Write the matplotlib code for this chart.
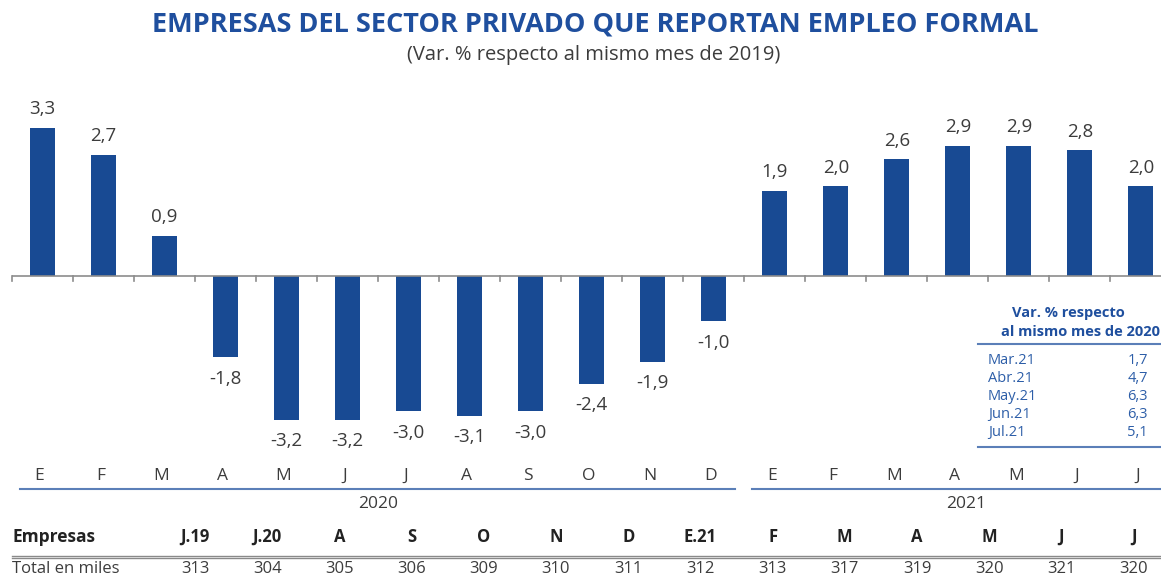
import matplotlib.pyplot as plt
import numpy as np
from matplotlib.transforms import blended_transform_factory
from matplotlib.lines import Line2D

# data
meses = ["E", "F", "M", "A", "M", "J", "J", "A", "S", "O", "N", "D",
         "E", "F", "M", "A", "M", "J", "J"]
valores = [3.3, 2.7, 0.9, -1.8, -3.2, -3.2, -3.0, -3.1, -3.0, -2.4, -1.9, -1.0,
           1.9, 2.0, 2.6, 2.9, 2.9, 2.8, 2.0]

tabla_cols = ["J.19", "J.20", "A", "S", "O", "N", "D", "E.21", "F", "M", "A", "M", "J", "J"]
tabla_vals = [313, 304, 305, 306, 309, 310, 311, 312, 313, 317, 319, 320, 321, 320]

inset_meses = ["Mar.21", "Abr.21", "May.21", "Jun.21", "Jul.21"]
inset_vals = [1.7, 4.7, 6.3, 6.3, 5.1]

azul = "#184a93"
gris = "#3c3c3c"
azul_linea = "#5b7fb8"

W, H = 1161, 579
fig = plt.figure(figsize=(W / 100, H / 100), dpi=100)

def fx(px):
    return px / W

def fy(py):
    return 1 - py / H

plt.rcParams['font.family'] = ['Open Sans', 'DejaVu Sans']

# main axes: left 12px, right 1161px, top 90px, bottom 460px
ax = fig.add_axes([fx(12), fy(460), fx(1161) - fx(12), fy(90) - fy(460)])
x = np.arange(len(valores))
ax.bar(x, valores, width=0.41, color=azul)
ax.set_xlim(-0.5, 18.33)
ax.set_ylim(-(460 - 276) / 45, (276 - 90) / 45)
ax.axhline(0, color="#8c8c8c", lw=1.2)
for s in ax.spines.values():
    s.set_visible(False)
ax.set_xticks([])
ax.set_yticks([])

# small ticks between bars
for b in np.arange(-0.5, 18, 1.0):
    ax.plot([b, b], [0, -0.1], color="#8c8c8c", lw=1.2, clip_on=False)

for xi, v in zip(x, valores):
    txt = f"{v:.1f}".replace(".", ",")
    if v >= 0:
        ax.annotate(txt, (xi, v), xytext=(0, 6.5), textcoords="offset points",
                    ha="center", va="bottom", fontsize=13.5, color=gris)
    else:
        ax.annotate(txt, (xi, v), xytext=(0, -9), textcoords="offset points",
                    ha="center", va="top", fontsize=13.5, color=gris)

# month labels
tr = blended_transform_factory(ax.transData, fig.transFigure)
for xi, m in zip(x, meses):
    ax.text(xi - 0.05, fy(476), m, transform=tr, ha="center", va="center",
            fontsize=12.5, color=gris)

fig.add_artist(Line2D([fx(20), fx(735)], [fy(489), fy(489)], color=azul_linea, lw=1.5))
fig.add_artist(Line2D([fx(752), fx(1161)], [fy(489), fy(489)], color=azul_linea, lw=1.5))
fig.text(fx(378), fy(504), "2020", ha="center", va="center", fontsize=12.5, color=gris)
fig.text(fx(966), fy(504), "2021", ha="center", va="center", fontsize=12.5, color=gris)

# title
fig.text(fx(595), fy(24), "EMPRESAS DEL SECTOR PRIVADO QUE REPORTAN EMPLEO FORMAL",
         ha="center", va="center", fontsize=19.5, fontweight="bold", color="#1f4f9e")
fig.text(fx(594), fy(55), "(Var. % respecto al mismo mes de 2019)",
         ha="center", va="center", fontsize=14.5, color=gris)

# bottom table
fig.text(fx(12), fy(537), "Empresas", ha="left", va="center", fontsize=12.5,
         fontweight="bold", color="#222222")
fig.text(fx(12), fy(569), "Total en miles", ha="left", va="center", fontsize=12,
         color=gris)
for i, (c, v) in enumerate(zip(tabla_cols, tabla_vals)):
    cx = 195 + 72.2 * i
    fig.text(fx(cx), fy(537), c, ha="center", va="center", fontsize=12,
             fontweight="bold", color="#222222")
    fig.text(fx(cx), fy(569), str(v), ha="center", va="center", fontsize=12,
             color=gris)
fig.add_artist(Line2D([fx(12), fx(1161)], [fy(555.5), fy(555.5)], color="#8a8a8a", lw=1.0))
fig.add_artist(Line2D([fx(12), fx(1161)], [fy(558), fy(558)], color="#8a8a8a", lw=1.0))

# inset table
azul_txt = "#2d5ea8"
fig.text(fx(1068), fy(313), "Var. % respecto", ha="center", va="center",
         fontsize=10.5, fontweight="bold", color="#1f4f9e")
fig.text(fx(1160), fy(332), "al mismo mes de 2020", ha="right", va="center",
         fontsize=10.5, fontweight="bold", color="#1f4f9e")
fig.add_artist(Line2D([fx(978), fx(1161)], [fy(344), fy(344)], color=azul_linea, lw=1.5))
for i, (m, v) in enumerate(zip(inset_meses, inset_vals)):
    yy = 360 + 18.2 * i
    fig.text(fx(988), fy(yy), m, ha="left", va="center", fontsize=10.5, color=azul_txt)
    fig.text(fx(1148), fy(yy), f"{v:.1f}".replace(".", ","), ha="right", va="center",
             fontsize=10.5, color=azul_txt)
fig.add_artist(Line2D([fx(978), fx(1161)], [fy(447), fy(447)], color=azul_linea, lw=1.5))

fig.savefig("out.png", dpi=100)
